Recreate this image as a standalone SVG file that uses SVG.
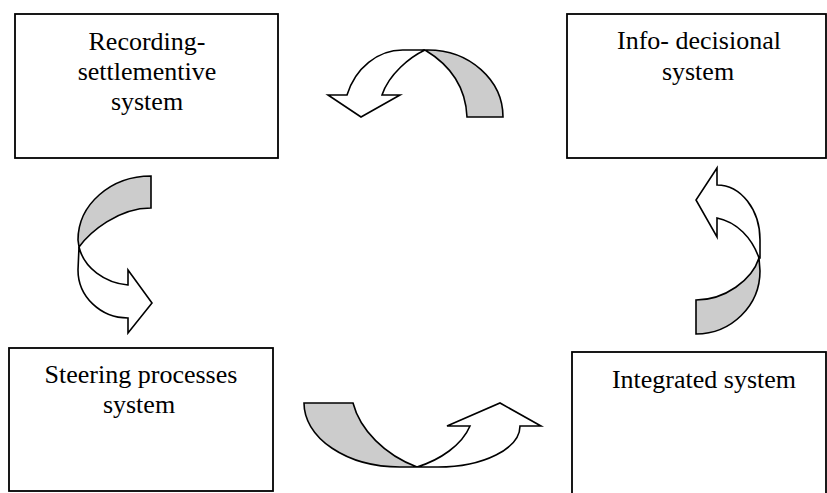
<svg xmlns="http://www.w3.org/2000/svg" width="827" height="493" viewBox="0 0 827 493">
<style>
.box{fill:#fff;stroke:#000;stroke-width:1.8}
.lbl{font-family:'Liberation Serif',Tinos,'DejaVu Serif',serif;font-size:26px;fill:#000;text-anchor:middle}
.back{fill:#cccccc;stroke:#000;stroke-width:1.6;stroke-linejoin:miter}
.front{fill:#fff;stroke:#000;stroke-width:1.6;stroke-linejoin:miter}
</style>
<rect width="827" height="493" fill="#fff"/>
<g id="node-recording">
<rect class="box" x="15" y="14" width="263" height="144"/>
<text class="lbl" font-family="Liberation Serif, serif" x="147" y="50">Recording-</text>
<text class="lbl" font-family="Liberation Serif, serif" x="147" y="80">settlementive</text>
<text class="lbl" font-family="Liberation Serif, serif" x="147" y="110">system</text>
</g>
<g id="node-info">
<rect class="box" x="567" y="14" width="259" height="144"/>
<text class="lbl" font-family="Liberation Serif, serif" x="699" y="49">Info- decisional</text>
<text class="lbl" font-family="Liberation Serif, serif" x="698" y="80">system</text>
</g>
<g id="node-steering">
<rect class="box" x="9" y="348" width="264" height="143"/>
<text class="lbl" font-family="Liberation Serif, serif" x="141" y="383">Steering processes</text>
<text class="lbl" font-family="Liberation Serif, serif" x="139" y="413">system</text>
</g>
<g id="node-integrated">
<rect class="box" x="572" y="352" width="254" height="150"/>
<text class="lbl" font-family="Liberation Serif, serif" x="704" y="388">Integrated system</text>
</g>
<g id="connectors">
<g id="arrow-top">
<path class="back" d="M428,50 A75,67 0 0 1 503,117 L467,117 C466,92 455,68 425,50 Z"/>
<path class="front" d="M425,50 C410,57 389,74 382,95 L400,95 L361,117 L328,95 L347,95 A59,67 0 0 1 403,50 Z"/>
</g>
<g id="arrow-left">
<path class="back" d="M151,176 A73,64 0 0 0 78,240 L79,247 C90,232 118,208 151,208 Z"/>
<path class="front" d="M79,247 C84,268 105,283 128,285 L128,270 L152,303 L128,333 L128,318 A50,48 0 0 1 78,270 Z"/>
</g>
<g id="arrow-right">
<path class="back" d="M696,334 A64,63 0 0 0 760,271 L759,258 C752,280 725,300 696,300 Z"/>
<path class="front" d="M759,258 C752,238 737,222 717,218 L717,237 L696,200 L717,168 L717,185 A43,55 0 0 1 760,240 L760,258 Z"/>
</g>
<g id="arrow-bottom">
<path class="back" d="M304,403 A96,64 0 0 0 400,467 L417,467 C385,455 360,430 353,403 Z"/>
<path class="front" d="M417,467 C440,460 462,445 470,426 L447,426 L500,403 L541,426 L520,426 A82,41 0 0 1 438,467 Z"/>
</g>
</g>
</svg>
